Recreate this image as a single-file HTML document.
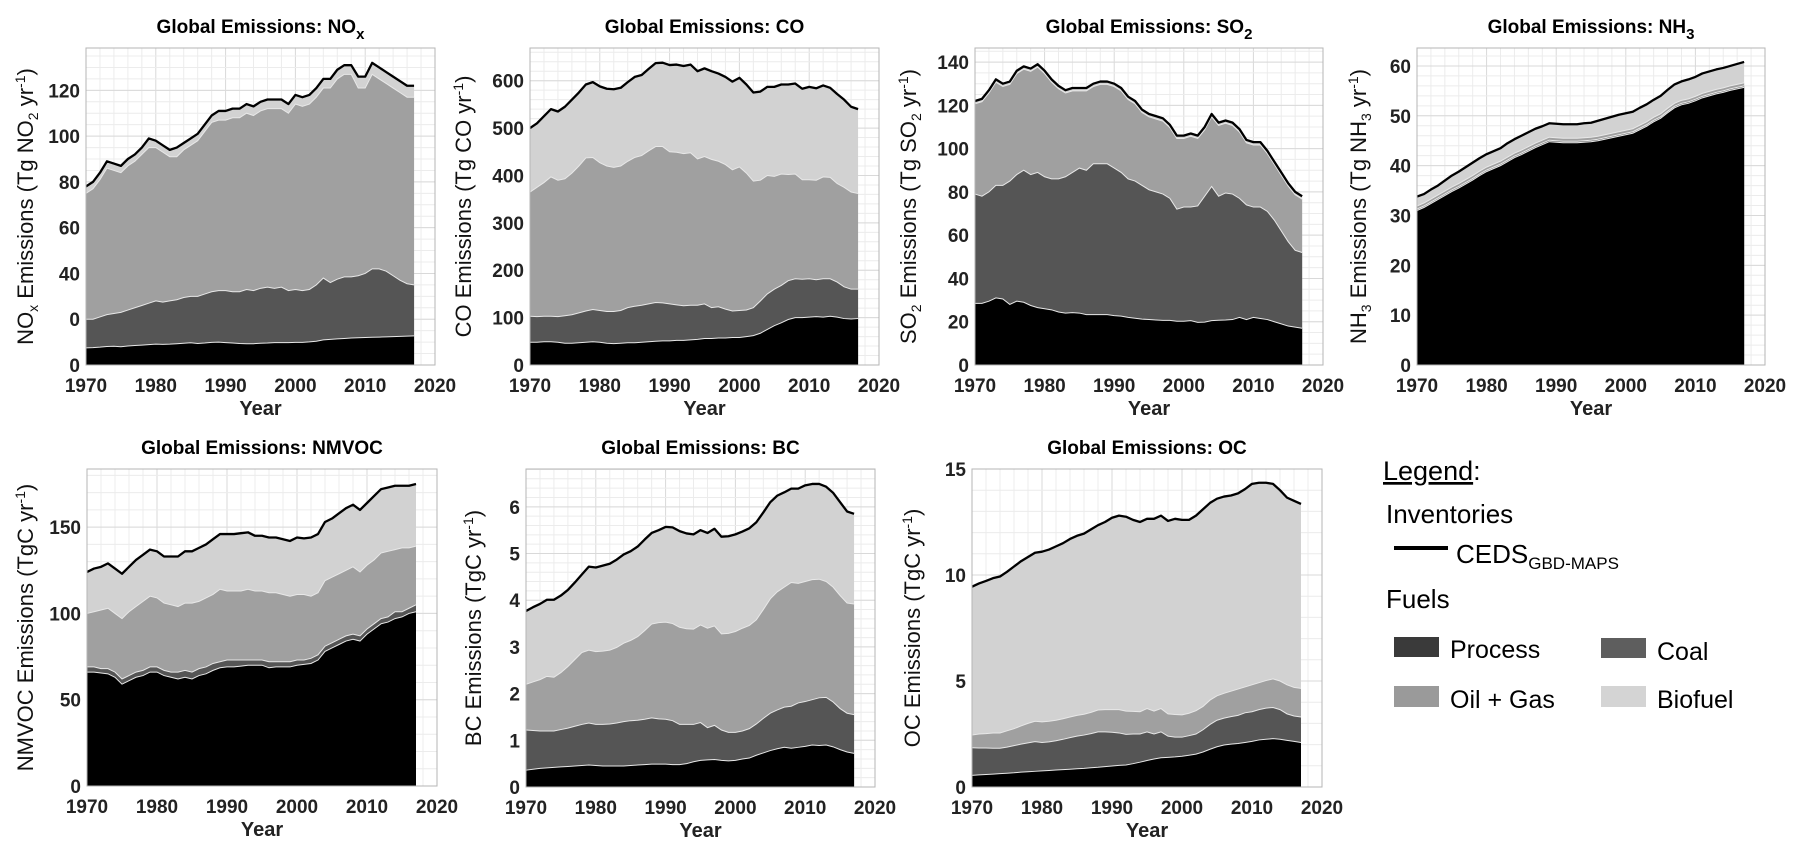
<!DOCTYPE html>
<html><head><meta charset="utf-8">
<style>
html,body{margin:0;padding:0;background:#fff;}
svg{display:block;font-family:"Liberation Sans",Arial,sans-serif;}
</style></head>
<body>
<svg id="fig" width="1803" height="856" viewBox="0 0 1803 856" xmlns="http://www.w3.org/2000/svg">
<g id="legend">
  <text x="1383" y="480" font-size="27"><tspan text-decoration="underline">Legend</tspan>:</text>
  <text x="1386" y="523" font-size="26">Inventories</text>
  <line x1="1394" y1="548" x2="1448" y2="548" stroke="#000" stroke-width="4"/>
  <text x="1456" y="563" font-size="26">CEDS<tspan font-size="17" dy="6">GBD-MAPS</tspan></text>
  <text x="1386" y="608" font-size="26">Fuels</text>
  <rect x="1394" y="637" width="45" height="20" fill="#3a3a3a"/>
  <text x="1450" y="658" font-size="25">Process</text>
  <rect x="1601" y="638" width="45" height="20" fill="#5e5e5e"/>
  <text x="1657" y="660" font-size="25">Coal</text>
  <rect x="1394" y="686" width="45" height="21" fill="#9a9a9a"/>
  <text x="1450" y="708" font-size="25">Oil + Gas</text>
  <rect x="1601" y="686" width="45" height="21" fill="#d4d4d4"/>
  <text x="1657" y="708" font-size="25">Biofuel</text>
</g>
</svg>
<script>
const years = [1970,1971,1972,1973,1974,1975,1976,1977,1978,1979,1980,1981,1982,1983,1984,1985,1986,1987,1988,1989,1990,1991,1992,1993,1994,1995,1996,1997,1998,1999,2000,2001,2002,2003,2004,2005,2006,2007,2008,2009,2010,2011,2012,2013,2014,2015,2016,2017];

const noxProcess = [7.5,7.6,7.8,8.1,8.2,8.0,8.3,8.5,8.7,8.9,9.1,9.0,9.1,9.3,9.5,9.7,9.4,9.6,9.9,10.0,9.8,9.6,9.4,9.3,9.3,9.5,9.6,9.8,9.8,9.8,9.9,9.9,10.1,10.4,11.0,11.2,11.4,11.6,11.8,11.9,12.0,12.1,12.2,12.3,12.4,12.5,12.6,12.7];
const noxCoal = [20,20,21,22,22.5,23,24,25,26,27,28,27.5,28,28.5,29.5,30,30,31,32,32.5,32.5,32,32,33,32.5,33.5,34,33.5,34,32.5,33,32.5,33,35,38,36,37.5,38.5,38.5,39,40,42,42,41,39,37,35.5,35];
const noxOil = [75,77,81,86,85,84,87,89,92,95,95,93,91,91,94,96,98,102,106,107,107,108,108,110,109,111,112,112,112,110,114,113,114,117,121,121,125,127,127,121,121,127,125,123,121,119,117,117];
const noxTotal = [78,80,84,89,88,87,90,92,95,99,98,96,94,95,97,99,101,105,109,111,111,112,112,114,113,115,116,116,116,114,118,117,118,121,125,125,129,131,131,126,126,132,130,128,126,124,122,122];

const coProcess = [48,48,49,49,48,46,46,47,48,49,48,46,45,46,47,47,48,49,50,51,51,52,52,53,54,56,56,57,57,58,58,60,62,67,75,83,89,96,100,100,101,102,101,103,101,98,97,98];
const coCoal = [103,102,103,103,102,104,106,110,114,117,115,113,113,115,121,124,126,129,132,131,129,127,125,126,126,129,121,123,118,114,115,116,121,135,150,160,168,178,182,181,182,180,182,182,175,165,160,160];
const coOil = [365,375,385,397,390,393,405,420,437,438,427,420,417,420,430,438,442,452,461,461,450,449,446,448,435,440,434,430,423,412,418,405,388,390,400,398,403,402,403,391,391,390,397,396,383,375,365,362];
const coTotal = [500,510,525,540,535,545,560,575,592,597,588,583,582,585,597,608,612,625,637,638,633,634,631,634,620,626,620,615,608,598,606,592,575,577,587,587,592,592,594,583,587,584,590,585,572,560,545,540];

const so2Process = [28.5,28.5,29.5,31,30.5,28,29.5,29,27.5,26.5,26,25.5,24.5,24,24.2,24,23.3,23.3,23.3,23.3,22.8,22.6,22,21.6,21.2,21,20.8,20.6,20.6,20.2,20.2,20.5,19.7,19.8,20.5,20.7,20.8,21,22,21,22,21.5,21,20,19,18,17.5,17];
const so2Coal = [79,78,80,83,83,85,88,90,88,89,87,86,86,87,89,91,90,93,93,93,91,89,86,85,83,81,80,79,77,72,73,73,73.5,78,82.5,78,79.5,79,77,74,73,73,71,67,62,57,53,52];
const so2Oil = [120.7,121.7,125.7,130.7,128.7,129.7,134.7,136.7,135.7,137.7,134.7,130.7,127.7,125.7,126.7,126.7,126.7,128.7,129.7,129.7,128.7,126.7,122.7,120.7,116.7,114.7,113.7,112.7,109.7,104.7,104.7,105.7,104.7,108.7,114.7,110.7,111.7,110.7,107.7,102.7,101.7,101.7,97.7,92.7,87.7,82.7,78.7,76.7];
const so2Total = [122,123,127,132,130,131,136,138,137,139,136,132,129,127,128,128,128,130,131,131,130,128,124,122,118,116,115,114,111,106,106,107,106,110,116,112,113,112,109,104,103,103,99,94,89,84,80,78];

const nh3Process = [31,31.6,32.4,33.2,34,34.8,35.5,36.3,37.1,38,38.8,39.4,40,40.8,41.6,42.2,42.9,43.6,44.2,44.8,44.7,44.6,44.6,44.6,44.7,44.8,45,45.3,45.6,45.9,46.2,46.5,47.2,47.9,48.8,49.5,50.6,51.6,52.2,52.5,53,53.6,54,54.4,54.7,55.1,55.4,55.7];
const nh3Coal = [31.3,31.9,32.7,33.5,34.3,35.1,35.8,36.6,37.4,38.3,39.1,39.7,40.3,41.1,41.9,42.5,43.2,43.9,44.5,45.1,45,44.9,44.9,44.9,45,45.1,45.3,45.6,45.9,46.2,46.5,46.8,47.5,48.2,49.1,49.8,50.9,51.9,52.5,52.8,53.3,53.9,54.3,54.7,55,55.4,55.7,56];
const nh3Oil = [31.9,32.5,33.3,34.1,34.9,35.7,36.4,37.2,38,38.9,39.7,40.3,40.9,41.7,42.5,43.1,43.8,44.5,45.1,45.7,45.6,45.5,45.5,45.5,45.6,45.7,45.9,46.2,46.5,46.8,47.1,47.4,48.1,48.8,49.7,50.4,51.5,52.5,53.1,53.4,53.9,54.5,54.9,55.3,55.6,56,56.3,56.6];
const nh3Total = [33.8,34.3,35.2,36,37,38,38.8,39.7,40.6,41.5,42.3,42.9,43.5,44.5,45.3,46,46.7,47.4,47.9,48.5,48.4,48.3,48.3,48.3,48.5,48.6,49,49.4,49.8,50.2,50.5,50.8,51.6,52.3,53.2,54,55.2,56.3,56.9,57.3,57.8,58.5,58.9,59.3,59.6,60,60.4,60.8];

const vocProcess = [66,66,65.5,65,63,59,61,63,64,66,66,64,63,62,63,62,64,65,67,68.5,69,69,69.5,70,70,70,68.5,69,69,69,70,70.5,71,73,78,80,82,84,85,84,88,91,94,95,97,98,100,101];
const vocCoal = [69,69,68,68,66,62,64,66,67,69,69,67,66,66,67,66,68,69,71,72,73,73,73,73,73,73,72,72,72,72,73,73,74,76,81,83,85,87,88,87,91,94,97,98,101,101,103,105];
const vocOil = [100,101,102,103,100,97,101,104,107,110,109,106,105,104,106,106,107,109,111,114,113,113,113,114,113,113,112,112,111,110,111,111,110,112,119,121,123,125,127,124,128,131,135,136,137,138,138,139];
const vocTotal = [124,126,127,129,126,123,127,131,134,137,136,133,133,133,136,136,138,140,143,146,146,146,146.5,147,145,145,144,144,143,142,144,143.5,144,146,153,155,158,161,163,160,164,168,172,173,174,174,174,175];

const bcProcess = [0.36,0.38,0.4,0.41,0.42,0.43,0.44,0.45,0.46,0.47,0.46,0.45,0.45,0.45,0.45,0.46,0.47,0.48,0.49,0.49,0.49,0.48,0.48,0.5,0.54,0.57,0.58,0.59,0.57,0.56,0.57,0.6,0.62,0.68,0.73,0.78,0.82,0.85,0.83,0.85,0.87,0.9,0.89,0.9,0.86,0.8,0.75,0.72];
const bcCoal = [1.22,1.21,1.2,1.2,1.2,1.23,1.26,1.3,1.34,1.37,1.34,1.34,1.35,1.37,1.4,1.42,1.43,1.45,1.48,1.46,1.45,1.42,1.34,1.34,1.34,1.38,1.27,1.32,1.22,1.17,1.17,1.2,1.25,1.35,1.47,1.58,1.65,1.71,1.73,1.8,1.83,1.87,1.91,1.92,1.82,1.68,1.58,1.55];
const bcOil = [2.2,2.25,2.3,2.37,2.35,2.45,2.58,2.73,2.88,2.93,2.9,2.91,2.93,2.99,3.08,3.14,3.22,3.35,3.49,3.52,3.53,3.5,3.42,3.39,3.38,3.47,3.4,3.45,3.28,3.29,3.33,3.4,3.46,3.58,3.8,4.03,4.18,4.28,4.38,4.36,4.4,4.44,4.45,4.4,4.28,4.1,3.94,3.92];
const bcTotal = [3.77,3.85,3.92,4.01,4.01,4.1,4.22,4.38,4.55,4.72,4.7,4.74,4.78,4.87,4.98,5.05,5.15,5.3,5.44,5.5,5.57,5.56,5.48,5.43,5.41,5.5,5.44,5.53,5.36,5.37,5.41,5.47,5.54,5.67,5.88,6.1,6.24,6.31,6.39,6.39,6.46,6.49,6.49,6.43,6.3,6.1,5.9,5.85];

const ocProcess = [0.55,0.57,0.59,0.61,0.63,0.65,0.67,0.7,0.72,0.74,0.76,0.78,0.8,0.82,0.84,0.86,0.88,0.91,0.93,0.96,0.99,1.02,1.04,1.1,1.17,1.25,1.32,1.38,1.4,1.42,1.45,1.5,1.55,1.65,1.78,1.9,1.98,2.02,2.05,2.1,2.15,2.22,2.25,2.28,2.25,2.2,2.15,2.1];
const ocCoal = [1.85,1.84,1.84,1.83,1.83,1.88,1.95,2.02,2.08,2.14,2.1,2.13,2.18,2.25,2.33,2.4,2.45,2.52,2.6,2.6,2.58,2.55,2.48,2.5,2.5,2.6,2.5,2.6,2.4,2.35,2.35,2.42,2.5,2.7,2.95,3.15,3.25,3.32,3.38,3.5,3.55,3.65,3.72,3.75,3.65,3.45,3.35,3.3];
const ocOil = [2.45,2.5,2.52,2.55,2.55,2.65,2.75,2.88,3.0,3.1,3.07,3.1,3.15,3.22,3.3,3.38,3.43,3.52,3.63,3.65,3.65,3.65,3.58,3.57,3.55,3.7,3.58,3.7,3.45,3.42,3.4,3.48,3.6,3.8,4.1,4.3,4.42,4.52,4.62,4.72,4.82,4.92,5.02,5.1,5.0,4.82,4.7,4.65];
const ocTotal = [9.45,9.6,9.72,9.85,9.93,10.15,10.4,10.65,10.85,11.05,11.1,11.2,11.35,11.5,11.7,11.85,11.95,12.15,12.35,12.5,12.7,12.8,12.75,12.6,12.5,12.65,12.65,12.8,12.55,12.65,12.6,12.6,12.8,13.1,13.4,13.6,13.7,13.75,13.85,14.05,14.3,14.35,14.35,14.3,14.0,13.65,13.5,13.35];

const xTicks = [1970,1980,1990,2000,2010,2020];
const noxTicks = [0,20,40,60,80,100,120];
const noxTickLabels = ['0','0','40','60','80','100','120'];
const coTicks = [0,100,200,300,400,500,600];
const so2Ticks = [0,20,40,60,80,100,120,140];
const nh3Ticks = [0,10,20,30,40,50,60];
const vocTicks = [0,50,100,150];
const bcTicks = [0,1,2,3,4,5,6];
const ocTicks = [0,5,10,15];

const NS = 'http://www.w3.org/2000/svg';
const svg = document.getElementById('fig');
function mk(tag, attrs, parent){
  const e = document.createElementNS(NS, tag);
  for (const k in attrs) e.setAttribute(k, attrs[k]);
  (parent||svg).appendChild(e);
  return e;
}

const panels = [
  {key:'nox', L:86, R:435, T:48, B:365, ymax:138.5, minor:5, ticks:noxTicks, labels:noxTickLabels, layers:[noxTotal,noxOil,noxCoal,noxProcess], title:['Global Emissions: NO','x'], ylab:['NO','x',' Emissions (Tg NO','2',' yr','-1',')'], ylx:25},
  {key:'co', L:530, R:879, T:48, B:365, ymax:669, minor:20, ticks:coTicks, labels:null, layers:[coTotal,coOil,coCoal,coProcess], title:['Global Emissions: CO'], ylab:['CO Emissions (Tg CO yr','-1',')'], ylx:463},
  {key:'so2', L:975, R:1323, T:48, B:365, ymax:146.5, minor:5, ticks:so2Ticks, labels:null, layers:[so2Total,so2Oil,so2Coal,so2Process], title:['Global Emissions: SO','2'], ylab:['SO','2',' Emissions (Tg SO','2',' yr','-1',')'], ylx:908},
  {key:'nh3', L:1417, R:1765, T:48, B:365, ymax:63.6, minor:2, ticks:nh3Ticks, labels:null, layers:[nh3Total,nh3Oil,nh3Coal,nh3Process], title:['Global Emissions: NH','3'], ylab:['NH','3',' Emissions (Tg NH','3',' yr','-1',')'], ylx:1358},
  {key:'nmvoc', L:87, R:437, T:469, B:786, ymax:183.7, minor:10, ticks:vocTicks, labels:null, layers:[vocTotal,vocOil,vocCoal,vocProcess], title:['Global Emissions: NMVOC'], ylab:['NMVOC Emissions (TgC yr','-1',')'], ylx:25},
  {key:'bc', L:526, R:875, T:469, B:787, ymax:6.81, minor:0.2, ticks:bcTicks, labels:null, layers:[bcTotal,bcOil,bcCoal,bcProcess], title:['Global Emissions: BC'], ylab:['BC Emissions (TgC yr','-1',')'], ylx:473},
  {key:'oc', L:972, R:1322, T:469, B:787, ymax:15, minor:1, ticks:ocTicks, labels:null, layers:[ocTotal,ocOil,ocCoal,ocProcess], title:['Global Emissions: OC'], ylab:['OC Emissions (TgC yr','-1',')'], ylx:912}
];
const fills = ['#d2d2d2','#a0a0a0','#555555','#000000'];
const layerNames = ['biofuel','oil-gas','coal','process'];

panels.forEach(function(p){
  const g = mk('g', {});
  
  
  const xs = function(yr){ return p.L + (yr - 1970) / 50 * (p.R - p.L); };
  const ys = function(v){ return p.B - v / p.ymax * (p.B - p.T); };

  const bg = mk('rect', {x:p.L, y:p.T, width:p.R-p.L, height:p.B-p.T, fill:'#fff'}, g);
  
  

  for (let yr = 1970; yr <= 2020; yr += 2) {
    const l = mk('line', {x1:xs(yr), x2:xs(yr), y1:p.T, y2:p.B, stroke:(yr%10===0)?'#d9d9d9':'#ececec', 'stroke-width':1}, g);
    
    
  }
  for (let v = 0; v <= p.ymax + 1e-9; v += p.minor) {
    const l = mk('line', {x1:p.L, x2:p.R, y1:ys(v), y2:ys(v), stroke:'#ececec', 'stroke-width':1}, g);
    
    
  }
  p.ticks.forEach(function(t){
    const l = mk('line', {x1:p.L, x2:p.R, y1:ys(t), y2:ys(t), stroke:'#d9d9d9', 'stroke-width':1}, g);
    
    
  });

  p.layers.forEach(function(arr, i){
    const n = Math.min(arr.length, years.length);
    let pts = xs(years[0]) + ',' + ys(0);
    for (let k = 0; k < n; k++) pts += ' ' + xs(years[k]) + ',' + ys(arr[k]);
    pts += ' ' + xs(years[n-1]) + ',' + ys(0);
    const a = mk('polygon', {points:pts, fill:fills[i]}, g);
    
    
    if (i > 0) {
      let lp = '';
      for (let k = 0; k < n; k++) lp += xs(years[k]) + ',' + ys(arr[k]) + ' ';
      const e = mk('polyline', {points:lp, fill:'none', stroke:'#e8e8e8', 'stroke-width':1}, g);
      
      
    }
  });
  const tot = p.layers[0];
  let tp = '';
  for (let k = 0; k < Math.min(tot.length, years.length); k++) tp += xs(years[k]) + ',' + ys(tot[k]) + ' ';
  const tl = mk('polyline', {points:tp, fill:'none', stroke:'#000', 'stroke-width':2.3, 'stroke-linejoin':'round'}, g);
  
  

  const box = mk('rect', {x:p.L, y:p.T, width:p.R-p.L, height:p.B-p.T, fill:'none', stroke:'#b5b5b5', 'stroke-width':1}, g);
  
  

  xTicks.forEach(function(t){
    const tx = mk('text', {x:xs(t), y:p.B+27, 'font-size':19, 'font-weight':'bold', 'text-anchor':'middle', fill:'#222'}, g);
    tx.textContent = String(t);
    
    
  });
  p.ticks.forEach(function(t, i){
    const tx = mk('text', {x:p.L-6, y:ys(t)+7, 'font-size':19, 'font-weight':'bold', 'text-anchor':'end', fill:'#222'}, g);
    tx.textContent = p.labels ? p.labels[i] : String(t);
    
    
  });

  const xt = mk('text', {x:(p.L+p.R)/2, y:p.B+50, 'font-size':20, 'font-weight':'bold', 'text-anchor':'middle', fill:'#222'}, g);
  xt.textContent = 'Year';
  
  

  const tt = mk('text', {x:(p.L+p.R)/2, y:p.T-15, 'font-size':19, 'font-weight':'bold', 'text-anchor':'middle', fill:'#000'}, g);
  
  
  tt.appendChild(document.createTextNode(p.title[0]));
  if (p.title[1]) {
    const s = mk('tspan', {'font-size':15, dy:6}, tt);
    s.textContent = p.title[1];
  }

  const cy = (p.T + p.B) / 2;
  const yl = mk('text', {x:0, y:0, 'font-size':22, 'text-anchor':'middle', fill:'#111', transform:'translate(' + (p.ylx+8) + ',' + cy + ') rotate(-90)'}, g);
  
  
  let state = 0;
  p.ylab.forEach(function(part){
    const ts = mk('tspan', {}, yl);
    if (part === '-1') { ts.setAttribute('font-size', 14); ts.setAttribute('dy', -8); state = -8; }
    else if (part === 'x' || part === '2' || part === '3') { ts.setAttribute('font-size', 14); ts.setAttribute('dy', 5); state = 5; }
    else { if (state !== 0) ts.setAttribute('dy', -state); state = 0; }
    ts.textContent = part;
  });
});
</script>
</body></html>
